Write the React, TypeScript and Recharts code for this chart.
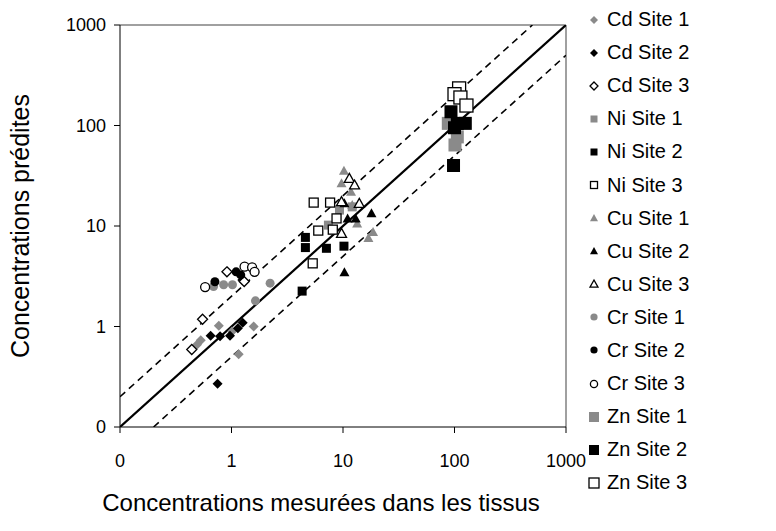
import React from "react";
import { ScatterChart, Scatter, XAxis, YAxis, Label, ReferenceLine } from "recharts";

type Pt = { x: number; y: number };

// axis ticks (0.1 is labelled "0" like the original)
const axisTicks = [0.1, 1, 10, 100, 1000];

// reference lines: 1:1 and factor 2 bounds
const identityLine: Pt[] = [{ x: 0.1, y: 0.1 }, { x: 1000, y: 1000 }];
const upperLine: Pt[] = [{ x: 0.1, y: 0.2 }, { x: 500, y: 1000 }];
const lowerLine: Pt[] = [{ x: 0.2, y: 0.1 }, { x: 1000, y: 500 }];

const cdSite1: Pt[] = [
  { x: 0.77, y: 1.02 }, { x: 0.53, y: 0.73 }, { x: 0.49, y: 0.66 },
  { x: 1.58, y: 1.0 }, { x: 1.16, y: 0.53 }, { x: 1.01, y: 0.89 },
];
const cdSite2: Pt[] = [
  { x: 0.65, y: 0.81 }, { x: 0.79, y: 0.8 }, { x: 0.97, y: 0.81 },
  { x: 1.14, y: 0.96 }, { x: 1.26, y: 1.09 }, { x: 0.75, y: 0.27 },
  { x: 1.25, y: 2.9 },
];
const cdSite3: Pt[] = [
  { x: 0.44, y: 0.59 }, { x: 0.55, y: 1.18 }, { x: 0.91, y: 3.5 }, { x: 1.3, y: 2.8 },
];
const niSite1: Pt[] = [{ x: 9.3, y: 14.4 }, { x: 7.4, y: 10.2 }, { x: 12.1, y: 15.5 }];
const niSite2: Pt[] = [
  { x: 4.6, y: 7.7 }, { x: 4.6, y: 6.1 }, { x: 7.1, y: 6.0 },
  { x: 10.2, y: 6.3 }, { x: 4.3, y: 2.25 },
];
const niSite3: Pt[] = [
  { x: 5.46, y: 17.1 }, { x: 7.66, y: 17.1 }, { x: 8.75, y: 11.9 },
  { x: 6.0, y: 9.0 }, { x: 8.1, y: 9.2 }, { x: 5.35, y: 4.25 },
];
const cuSite1: Pt[] = [
  { x: 10.2, y: 35.5 }, { x: 9.7, y: 26.6 }, { x: 11.8, y: 21.9 }, { x: 12.1, y: 16.2 },
  { x: 13.4, y: 10.6 }, { x: 16.9, y: 7.6 }, { x: 18.6, y: 8.7 },
];
const cuSite2: Pt[] = [
  { x: 10.3, y: 16.8 }, { x: 11.0, y: 11.9 }, { x: 13.0, y: 11.9 },
  { x: 18.0, y: 13.4 }, { x: 10.3, y: 3.46 },
];
const cuSite3: Pt[] = [
  { x: 11.4, y: 29.8 }, { x: 12.7, y: 25.6 }, { x: 9.7, y: 17.5 },
  { x: 14.0, y: 16.8 }, { x: 9.7, y: 8.45 },
];
const crSite1: Pt[] = [
  { x: 0.69, y: 2.5 }, { x: 0.85, y: 2.6 }, { x: 1.02, y: 2.6 },
  { x: 1.64, y: 1.8 }, { x: 2.22, y: 2.7 },
];
const crSite2: Pt[] = [{ x: 0.71, y: 2.79 }, { x: 1.1, y: 3.5 }, { x: 1.21, y: 3.26 }];
const crSite3: Pt[] = [
  { x: 0.58, y: 2.47 }, { x: 1.31, y: 3.94 }, { x: 1.53, y: 3.88 }, { x: 1.61, y: 3.5 },
];
const znSite1: Pt[] = [{ x: 88, y: 105 }, { x: 106, y: 77 }, { x: 101, y: 64 }];
const znSite2: Pt[] = [
  { x: 93, y: 137 }, { x: 106, y: 105 }, { x: 125, y: 105 }, { x: 100, y: 95 }, { x: 98, y: 40 },
];
const znSite3: Pt[] = [
  { x: 110, y: 234 }, { x: 100, y: 205 }, { x: 113, y: 190 }, { x: 128, y: 158 },
];

const GRAY = "#8a8a8a";
const FONT = "'Liberation Sans', Arial, sans-serif";

type Kind = "diamond" | "square" | "triangle" | "circle";
type Style = "gray" | "black" | "open";

const seriesList: { name: string; data: Pt[]; kind: Kind; style: Style; big?: boolean }[] = [
  { name: "Cd Site 1", data: cdSite1, kind: "diamond", style: "gray" },
  { name: "Cd Site 2", data: cdSite2, kind: "diamond", style: "black" },
  { name: "Cd Site 3", data: cdSite3, kind: "diamond", style: "open" },
  { name: "Ni Site 1", data: niSite1, kind: "square", style: "gray" },
  { name: "Ni Site 2", data: niSite2, kind: "square", style: "black" },
  { name: "Ni Site 3", data: niSite3, kind: "square", style: "open" },
  { name: "Cu Site 1", data: cuSite1, kind: "triangle", style: "gray" },
  { name: "Cu Site 2", data: cuSite2, kind: "triangle", style: "black" },
  { name: "Cu Site 3", data: cuSite3, kind: "triangle", style: "open" },
  { name: "Cr Site 1", data: crSite1, kind: "circle", style: "gray" },
  { name: "Cr Site 2", data: crSite2, kind: "circle", style: "black" },
  { name: "Cr Site 3", data: crSite3, kind: "circle", style: "open" },
  { name: "Zn Site 1", data: znSite1, kind: "square", style: "gray", big: true },
  { name: "Zn Site 2", data: znSite2, kind: "square", style: "black", big: true },
  { name: "Zn Site 3", data: znSite3, kind: "square", style: "open", big: true },
];

function Mark({ cx, cy, kind, style, s }: { cx: number; cy: number; kind: Kind; style: Style; s: number }) {
  const fill = style === "gray" ? GRAY : style === "black" ? "#000" : "#fff";
  const stroke = style === "open" ? "#000" : "none";
  const sw = style === "open" ? 1.3 : 0;
  if (kind === "diamond") {
    return <polygon points={`${cx},${cy - s} ${cx + s},${cy} ${cx},${cy + s} ${cx - s},${cy}`} fill={fill} stroke={stroke} strokeWidth={sw} />;
  }
  if (kind === "square") {
    return <rect x={cx - s} y={cy - s} width={2 * s} height={2 * s} fill={fill} stroke={stroke} strokeWidth={sw} />;
  }
  if (kind === "triangle") {
    return <polygon points={`${cx},${cy - s} ${cx + s},${cy + s * 0.8} ${cx - s},${cy + s * 0.8}`} fill={fill} stroke={stroke} strokeWidth={sw} />;
  }
  return <circle cx={cx} cy={cy} r={s * 0.9} fill={fill} stroke={stroke} strokeWidth={sw} />;
}

const noDot = () => <g />;

export default function App() {
  return (
    <div style={{ position: "absolute", left: 0, top: 0, width: 776, height: 531, background: "#fff", fontFamily: FONT }}>
      <ScatterChart width={776} height={531} margin={{ top: 25, right: 210, bottom: 0, left: 0 }}>
        <XAxis
          type="number"
          dataKey="x"
          scale="log"
          domain={[0.1, 1000]}
          ticks={axisTicks}
          allowDataOverflow
          tickFormatter={(v: number) => (v === 0.1 ? "0" : String(v))}
          height={104}
          tickSize={6}
          tickMargin={21}
          axisLine={{ stroke: "#000" }}
          tickLine={{ stroke: "#000" }}
          tick={{ fill: "#000", fontSize: 18, fontFamily: FONT }}
        >
          <Label
            value="Concentrations mesurées dans les tissus"
            position="insideBottom"
            offset={20}
            dx={-22}
            style={{ fill: "#000", fontSize: 24, fontFamily: FONT }}
          />
        </XAxis>
        <YAxis
          type="number"
          dataKey="y"
          scale="log"
          domain={[0.1, 1000]}
          ticks={axisTicks}
          allowDataOverflow
          tickFormatter={(v: number) => (v === 0.1 ? "0" : String(v))}
          width={120}
          tickSize={6}
          tickMargin={8}
          axisLine={{ stroke: "#000" }}
          tickLine={{ stroke: "#000" }}
          tick={{ fill: "#000", fontSize: 18, fontFamily: FONT }}
        >
          <Label
            value="Concentrations prédites"
            angle={-90}
            position="insideLeft"
            offset={20}
            style={{ fill: "#000", fontSize: 25, fontFamily: FONT, textAnchor: "middle" }}
          />
        </YAxis>
        <ReferenceLine y={1000} stroke="#808080" strokeWidth={1.5} />
        <ReferenceLine x={1000} stroke="#808080" strokeWidth={1.5} />
        <Scatter data={identityLine} line={{ stroke: "#000", strokeWidth: 2.2 }} shape={noDot} legendType="none" isAnimationActive={false} />
        <Scatter data={upperLine} line={{ stroke: "#000", strokeWidth: 1.6, strokeDasharray: "7 5" }} shape={noDot} legendType="none" isAnimationActive={false} />
        <Scatter data={lowerLine} line={{ stroke: "#000", strokeWidth: 1.6, strokeDasharray: "7 5" }} shape={noDot} legendType="none" isAnimationActive={false} />
        {seriesList.map((s) => (
          <Scatter
            key={s.name}
            name={s.name}
            data={s.data}
            isAnimationActive={false}
            shape={(p: any) => (
              <Mark cx={p.cx} cy={p.cy} kind={s.kind} style={s.style} s={s.big ? 6.5 : s.kind === "square" ? 4.5 : 5} />
            )}
          />
        ))}
      </ScatterChart>
      <div style={{ position: "absolute", left: 586, top: 3 }}>
        {seriesList.map((s) => (
          <div key={s.name} style={{ display: "flex", alignItems: "center", height: 33.1, fontSize: 20, color: "#000" }}>
            <svg width={16} height={16} style={{ marginRight: 5 }}>
              <Mark cx={8} cy={8} kind={s.kind} style={s.style} s={s.big ? 5 : s.kind === "square" ? 3.5 : 4} />
            </svg>
            <span>{s.name}</span>
          </div>
        ))}
      </div>
    </div>
  );
}
